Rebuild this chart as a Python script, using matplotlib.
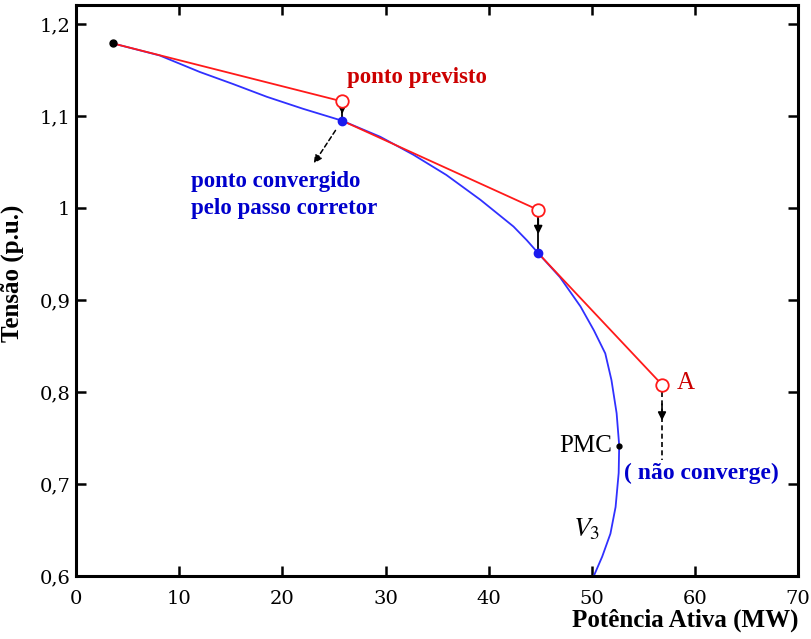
import numpy as np
import matplotlib.pyplot as plt

# curva PV da barra 3 (MW, p.u.)
p_curva = [3.6, 8.1, 12.0, 15.2, 18.5, 22.0, 25.8, 29.5, 32.7, 35.9, 39.2, 42.4, 43.7,
           44.8, 46.9, 48.9, 50.2, 51.3, 51.9, 52.4, 52.65, 52.6, 52.3, 51.8, 51.0, 50.15]
v_curva = [1.179, 1.166, 1.148, 1.135, 1.121, 1.108, 1.095, 1.0775, 1.058, 1.036, 1.009, 0.980, 0.965,
           0.951, 0.925, 0.893, 0.867, 0.842, 0.813, 0.777, 0.742, 0.712, 0.675, 0.646, 0.621, 0.599]

# passos previsor / corretor
p_inicio, v_inicio = 3.6, 1.179
p_prev = [25.8, 44.8, 56.8]
v_prev = [1.116, 0.998, 0.808]
p_corr = [25.8, 44.8]
v_corr = [1.095, 0.951]
p_pmc, v_pmc = 52.65, 0.741

yticks = [0.6, 0.7, 0.8, 0.9, 1.0, 1.1, 1.2]
ytick_labels = ["0,6", "0,7", "0,8", "0,9", "1", "1,1", "1,2"]
xticks = [0, 10, 20, 30, 40, 50, 60, 70]

plt.rcParams['mathtext.fontset'] = 'stix'
serif = 'Liberation Serif'

fig = plt.figure(figsize=(8.12, 6.39), dpi=100)
ax = fig.add_axes([0.0936, 0.0986, 0.8894, 0.8934])

ax.plot(p_curva, v_curva, color='#3030ff', lw=1.3, zorder=2)

# retas do previsor: inicio -> prev1, corr1 -> prev2, corr2 -> A
px0 = [p_inicio] + p_corr
py0 = [v_inicio] + v_corr
for a, b, c, d in zip(px0, py0, p_prev, v_prev):
    ax.plot([a, c], [b, d], color='#ff1a1a', lw=1.3, zorder=3)

ax.plot(p_prev, v_prev, 'o', mfc='white', mec='#ff1a1a', mew=1.3, ms=9, zorder=4)
ax.plot(p_corr, v_corr, 'o', color='#1a1aee', ms=6, zorder=5)
ax.plot(p_inicio, v_inicio, 'o', color='black', ms=5, zorder=5)
ax.plot(p_pmc, v_pmc, 'o', color='black', ms=3.5, zorder=5)

# setas de correcao
for xp, yp, yc in zip(p_corr, v_prev[:2], v_corr):
    ax.plot([xp, xp], [yp - 0.007, yc], color='black', lw=1.3, zorder=3)
    ax.annotate('', xy=(xp, (yp + yc) / 2 - 0.006), xytext=(xp, yp - 0.007),
                arrowprops=dict(arrowstyle='-|>', color='black', lw=1.3,
                                mutation_scale=12))

# passo que nao converge
ax.plot([p_prev[2], p_prev[2]], [v_prev[2] - 0.008, 0.726], color='black',
        lw=1.2, ls=(0, (3, 2)), zorder=3)
ax.annotate('', xy=(p_prev[2], 0.766), xytext=(p_prev[2], 0.790),
            arrowprops=dict(arrowstyle='-|>', color='black', lw=1.2,
                            mutation_scale=12))

# seta para o rotulo do ponto convergido
ax.annotate('', xy=(22.9, 1.046), xytext=(25.3, 1.087),
            arrowprops=dict(arrowstyle='-|>', color='black', lw=1.1,
                            ls=(0, (3, 2)), mutation_scale=12))

ax.text(26.3, 1.142, 'ponto previsto', color='#cc0000', fontsize=16.5,
        fontweight='bold', family=serif, va='center', ha='left')
ax.text(11.1, 1.029, 'ponto convergido', color='#0000cc',
        fontsize=16.5, fontweight='bold', family=serif, va='center', ha='left')
ax.text(11.1, 1.000, 'pelo passo corretor', color='#0000cc',
        fontsize=16.5, fontweight='bold', family=serif, va='center', ha='left')
ax.text(58.2, 0.810, 'A', color='#cc0000', fontsize=18, family=serif,
        va='center', ha='left')
ax.text(52.0, 0.741, 'PMC', color='black', fontsize=18, family=serif,
        va='center', ha='right')
ax.text(53.1, 0.711, '( não converge)', color='#0000cc', fontsize=17,
        fontweight='bold', family=serif, va='center', ha='left')
ax.text(49.5, 0.652, r'$V_3$', color='black', fontsize=20, va='center',
        ha='center')

ax.set_xlim(0, 70)
ax.set_ylim(0.6, 1.2207)
ax.set_xticks(xticks)
ax.set_xticklabels([str(t) for t in xticks], family='DejaVu Serif', fontsize=14)
ax.set_yticks(yticks)
ax.set_yticklabels(ytick_labels, family='DejaVu Serif', fontsize=14)
ax.tick_params(direction='in', length=7, width=1.8, top=True, right=True)
ax.tick_params(axis='x', pad=10)
ax.tick_params(axis='y', pad=4)
for s in ax.spines.values():
    s.set_linewidth(2.2)

ax.set_xlabel('Potência Ativa (MW)', fontsize=18, fontweight='bold',
              family=serif, loc='right')
ax.xaxis.set_label_coords(1.0, -0.057)
ax.set_ylabel('Tensão (p.u.)', fontsize=18, fontweight='bold', family=serif)
ax.yaxis.set_label_coords(-0.072, 0.53)

fig.savefig('out.png', dpi=100)
